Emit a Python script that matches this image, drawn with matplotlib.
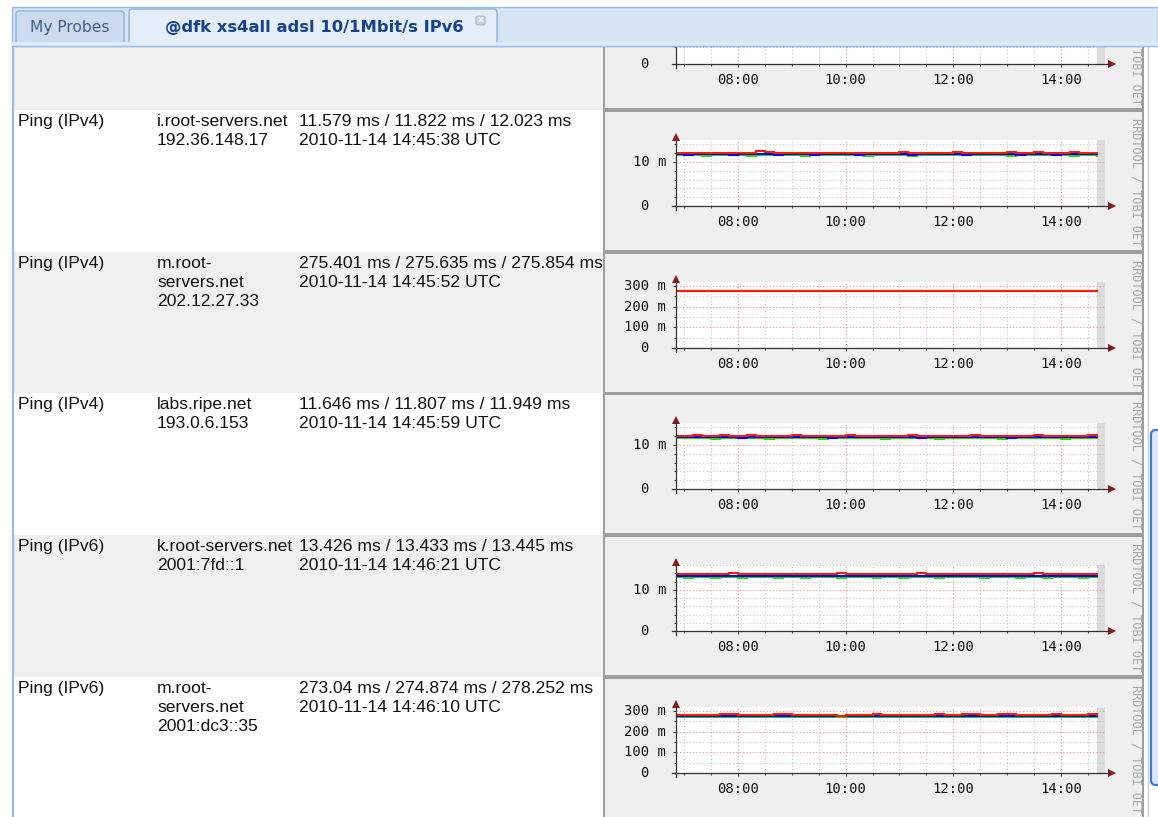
import numpy as np
import matplotlib
matplotlib.use("Agg")
import matplotlib.pyplot as plt
from matplotlib.patches import Rectangle, FancyBboxPatch, Polygon

W, H = 1158, 817

# ------------------------------------------------------------------ data
tab_labels = ["My Probes", "@dfk xs4all adsl 10/1Mbit/s IPv6"]

services = ["Ping (IPv4)", "Ping (IPv4)", "Ping (IPv4)", "Ping (IPv6)", "Ping (IPv6)"]
host_lines = [
    ["i.root-servers.net", "192.36.148.17"],
    ["m.root-", "servers.net", "202.12.27.33"],
    ["labs.ripe.net", "193.0.6.153"],
    ["k.root-servers.net", "2001:7fd::1"],
    ["m.root-", "servers.net", "2001:dc3::35"],
]
rtt_text = [
    "11.579 ms / 11.822 ms / 12.023 ms",
    "275.401 ms / 275.635 ms / 275.854 ms",
    "11.646 ms / 11.807 ms / 11.949 ms",
    "13.426 ms / 13.433 ms / 13.445 ms",
    "273.04 ms / 274.874 ms / 278.252 ms",
]
stamp_text = [
    "2010-11-14 14:45:38 UTC",
    "2010-11-14 14:45:52 UTC",
    "2010-11-14 14:45:59 UTC",
    "2010-11-14 14:46:21 UTC",
    "2010-11-14 14:46:10 UTC",
]
watermark = "RRDTOOL / TOBI OET"
watermark_tail = "TOBI OET"   # visible part of the top, partly hidden panel

x_tick_hours = [8, 10, 12, 14]
x_tick_labels = ["08:00", "10:00", "12:00", "14:00"]
x_minor_hours = [7, 7.5, 8.5, 9, 9.5, 10.5, 11, 11.5, 12.5, 13, 13.5, 14.5]
sample_start_h = 6 + 50 / 60      # first sample 06:50
sample_step_h = 10 / 60           # 10 minute samples
last_data_h = 14 + 40 / 60        # end of data (grey "unknown" band after it)

# i.root-servers.net (ms): min / avg / max
iroot_min = [11.6, 11.55, 11.6, 11.35, 11.6, 11.6, 11.55, 11.6, 11.4, 11.6, 11.6, 11.55,
             11.6, 11.6, 11.35, 11.6, 11.6, 11.55, 11.6, 11.6, 11.6, 11.4, 11.6, 11.6,
             11.55, 11.6, 11.35, 11.6, 11.6, 11.55, 11.6, 11.6, 11.6, 11.6, 11.55, 11.6,
             11.6, 11.35, 11.6, 11.6, 11.55, 11.6, 11.6, 11.6, 11.3, 11.6, 11.55, 11.35]
iroot_avg = [11.85, 11.7, 11.85, 11.8, 11.85, 11.8, 11.65, 11.85, 11.8, 11.9, 11.8, 11.7,
             11.85, 11.8, 11.8, 11.65, 11.85, 11.8, 11.8, 11.85, 11.7, 11.8, 11.85, 11.8,
             11.8, 11.85, 11.65, 11.8, 11.85, 11.8, 11.85, 11.8, 11.7, 11.85, 11.8, 11.8,
             11.85, 11.9, 11.7, 11.8, 11.85, 11.8, 11.65, 11.8, 11.85, 11.8, 11.8, 11.85]
iroot_max = [12.1, 12.15, 12.05, 12.1, 12.15, 12.1, 12.05, 12.15, 12.1, 12.55, 12.25, 12.1,
             12.15, 12.05, 12.1, 12.15, 12.05, 12.1, 12.15, 12.1, 12.05, 12.15, 12.1, 12.1,
             12.15, 12.35, 12.1, 12.05, 12.15, 12.1, 12.15, 12.25, 12.1, 12.05, 12.1, 12.15,
             12.1, 12.35, 12.15, 12.1, 12.3, 12.05, 12.1, 12.15, 12.25, 12.05, 12.1, 12.15]

# m.root-servers.net IPv4 (ms)
mroot4_min = [275.4, 275.45, 275.4, 275.4, 275.45, 275.4, 275.4, 275.4, 275.45, 275.4, 275.4, 275.4,
              275.4, 275.45, 275.4, 275.4, 275.4, 275.45, 275.4, 275.4, 275.4, 275.4, 275.45, 275.4,
              275.4, 275.4, 275.45, 275.4, 275.4, 275.4, 275.4, 275.45, 275.4, 275.4, 275.4, 275.45,
              275.4, 275.4, 275.4, 275.45, 275.4, 275.4, 275.4, 275.4, 275.45, 275.4, 275.4, 275.4]
mroot4_avg = [275.6, 275.65, 275.6, 275.65, 275.6, 275.6, 275.65, 275.6, 275.6, 275.65, 275.6, 275.6,
              275.65, 275.6, 275.6, 275.65, 275.6, 275.6, 275.65, 275.6, 275.6, 275.65, 275.6, 275.6,
              275.65, 275.6, 275.6, 275.65, 275.6, 275.6, 275.65, 275.6, 275.6, 275.65, 275.6, 275.6,
              275.65, 275.6, 275.6, 275.65, 275.6, 275.6, 275.65, 275.6, 275.6, 275.65, 275.6, 275.6]
mroot4_max = [275.85, 275.9, 275.85, 275.85, 275.9, 275.85, 275.85, 275.85, 275.9, 275.85, 275.85, 275.85,
              275.9, 275.85, 275.85, 275.85, 275.9, 275.85, 275.85, 275.85, 275.9, 275.85, 275.85, 275.85,
              275.9, 275.85, 275.85, 275.85, 275.9, 275.85, 275.85, 275.85, 275.9, 275.85, 275.85, 275.85,
              275.9, 275.85, 275.85, 275.85, 275.9, 275.85, 275.85, 275.85, 275.9, 275.85, 275.85, 275.85]

# labs.ripe.net (ms)
ripe_min = [11.6, 11.55, 11.6, 11.6, 11.35, 11.6, 11.55, 11.6, 11.6, 11.55, 11.4, 11.6,
            11.6, 11.55, 11.6, 11.6, 11.35, 11.6, 11.6, 11.55, 11.6, 11.6, 11.55, 11.4,
            11.6, 11.6, 11.55, 11.6, 11.6, 11.35, 11.6, 11.55, 11.6, 11.6, 11.55, 11.6,
            11.4, 11.6, 11.55, 11.6, 11.6, 11.6, 11.55, 11.35, 11.6, 11.6, 11.55, 11.6]
ripe_avg = [11.8, 11.85, 11.75, 11.8, 11.8, 11.85, 11.8, 11.7, 11.8, 11.85, 11.8, 11.8,
            11.75, 11.8, 11.85, 11.8, 11.8, 11.7, 11.8, 11.85, 11.8, 11.8, 11.75, 11.8,
            11.8, 11.85, 11.8, 11.7, 11.8, 11.8, 11.85, 11.8, 11.75, 11.8, 11.8, 11.85,
            11.8, 11.7, 11.8, 11.8, 11.85, 11.8, 11.75, 11.8, 11.8, 11.85, 11.8, 11.8]
ripe_max = [12.0, 12.05, 12.25, 12.0, 12.05, 12.3, 12.0, 12.05, 12.35, 12.0, 12.05, 12.15,
            12.0, 12.25, 12.05, 12.0, 12.15, 12.05, 12.0, 12.3, 12.05, 12.0, 12.05, 12.15,
            12.0, 12.05, 12.25, 12.0, 12.05, 12.0, 12.15, 12.05, 12.0, 12.25, 12.05, 12.0,
            12.05, 12.15, 12.0, 12.05, 12.25, 12.0, 12.05, 12.15, 12.0, 12.05, 12.25, 12.05]

# k.root-servers.net (ms)
kroot_min = [13.15, 12.95, 13.15, 13.15, 12.9, 13.15, 13.15, 12.95, 13.15, 13.15, 13.15, 12.95,
             13.15, 13.15, 12.9, 13.15, 13.15, 13.15, 12.95, 13.15, 13.15, 13.15, 12.95, 13.15,
             13.15, 12.9, 13.15, 13.15, 13.15, 12.95, 13.15, 13.15, 13.15, 13.15, 12.95, 13.15,
             13.15, 13.15, 12.9, 13.15, 13.15, 12.95, 13.15, 13.15, 13.15, 12.95, 13.15, 13.15]
kroot_avg = [13.43, 13.4, 13.43, 13.45, 13.4, 13.43, 13.45, 13.43, 13.4, 13.43, 13.45, 13.43,
             13.43, 13.4, 13.43, 13.45, 13.43, 13.4, 13.43, 13.43, 13.45, 13.43, 13.4, 13.43,
             13.43, 13.45, 13.43, 13.4, 13.43, 13.43, 13.45, 13.43, 13.4, 13.43, 13.43, 13.45,
             13.43, 13.4, 13.43, 13.43, 13.45, 13.43, 13.4, 13.43, 13.43, 13.45, 13.43, 13.43]
kroot_max = [13.7, 13.75, 13.7, 13.7, 13.75, 13.7, 14.05, 13.8, 13.7, 13.75, 13.7, 13.7,
             13.8, 13.7, 13.7, 13.75, 13.7, 13.7, 14.0, 13.75, 13.7, 13.7, 13.8, 13.7,
             13.7, 13.75, 13.7, 14.0, 13.7, 13.7, 13.75, 13.7, 13.7, 13.8, 13.7, 13.7,
             13.75, 13.7, 13.7, 13.7, 14.0, 13.7, 13.75, 13.7, 13.7, 13.8, 13.7, 13.7]

# m.root-servers.net IPv6 (ms)
mroot6_min = [272.5, 272.5, 272.5, 270.0, 272.5, 272.5, 272.5, 272.5, 270.0, 272.5, 272.5, 272.5,
              272.5, 272.5, 272.5, 272.5, 272.5, 272.5, 272.5, 272.5, 272.5, 270.0, 272.5, 272.5,
              272.5, 272.5, 272.5, 272.5, 270.0, 272.5, 272.5, 272.5, 272.5, 272.5, 272.5, 270.0,
              272.5, 272.5, 272.5, 272.5, 272.5, 272.5, 270.0, 272.5, 272.5, 272.5, 272.5, 272.5]
mroot6_avg = [274.9, 274.9, 274.8, 274.9, 274.9, 274.9, 274.9, 274.8, 274.9, 274.9, 274.9, 274.9,
              274.9, 274.9, 274.8, 274.9, 274.9, 274.9, 274.9, 274.9, 274.9, 274.8, 274.9, 274.9,
              274.9, 274.9, 274.9, 274.9, 274.9, 274.9, 274.8, 274.9, 274.9, 274.9, 274.9, 274.9,
              274.9, 274.8, 274.9, 274.9, 274.9, 274.9, 274.9, 274.9, 274.9, 274.8, 274.9, 274.9]
mroot6_max = [279.0, 279.0, 279.0, 279.0, 279.0, 286.0, 286.0, 279.0, 279.0, 279.0, 279.0, 286.0,
              286.0, 279.0, 279.0, 279.0, 279.0, 279.0, 274.0, 279.0, 279.0, 279.0, 286.0, 279.0,
              279.0, 279.0, 279.0, 279.0, 279.0, 286.0, 279.0, 279.0, 286.0, 286.0, 279.0, 279.0,
              286.0, 286.0, 279.0, 279.0, 279.0, 279.0, 286.0, 279.0, 279.0, 279.0, 286.0, 279.0]

series_colors = ["#22dd00", "#0000ff", "#ff1a00"]   # min, avg, max

# ------------------------------------------------------------------ layout
fig = plt.figure(figsize=(W / 100, H / 100), dpi=100)
fig.patch.set_facecolor("white")


def px_axes(z):
    a = fig.add_axes([0, 0, 1, 1], zorder=z)
    a.set_xlim(0, W)
    a.set_ylim(H, 0)
    a.axis("off")
    a.patch.set_alpha(0)
    return a


bg = px_axes(0)
mid = px_axes(3)
top = px_axes(5)

panel_tops = [-32, 110, 252, 393, 535, 677]
PX0, PX1, PH = 604, 1143, 140
AX_X0, AX_X1 = 676, 1105
PX_PER_H = 53.8
T0 = 8 - (738 - AX_X0) / PX_PER_H
T1 = 8 + (AX_X1 - 738) / PX_PER_H

TEXT_FONT = "Liberation Sans"
MONO = "DejaVu Sans Mono"
WM_CHAR = 0.602 * 8.6 * 100 / 72   # watermark char advance in px

# row backgrounds and panels
for i, pt in enumerate(panel_tops):
    nxt = panel_tops[i + 1] if i + 1 < len(panel_tops) else H
    if i % 2 == 0:
        bg.add_patch(Rectangle((14, pt), PX0 - 14, nxt - pt, fc="#f0f0f0", ec="none"))
    bg.add_patch(Rectangle((PX0, pt + 1), PX1 - PX0, PH, fc="#efefef", ec="#9c9c9c", lw=1.4))

# left blue border of the tab body
bg.plot([13, 13], [44, H], color="#99bbe8", lw=1.6)

# left table text
for i in range(5):
    base = panel_tops[i + 1] + 16
    kw = dict(fontsize=12.6, family=TEXT_FONT, va="baseline", ha="left", color="#111111")
    bg.text(18, base, services[i], **kw)
    for j, line in enumerate(host_lines[i]):
        bg.text(157, base + 19 * j, line, **kw)
    bg.text(299, base, rtt_text[i], **kw)
    bg.text(299, base + 19, stamp_text[i], **kw)

MONO_PT = 10
CW = 0.602 * MONO_PT * 100 / 72  # mono char advance in px


def chart(pt, ylim, ymaj, ymaj_lbl, ymin, series, wm_text=watermark):
    ay = pt + 96
    ax = fig.add_axes([AX_X0 / W, 1 - ay / H, (AX_X1 - AX_X0) / W, 66 / H], zorder=2)
    ax.set_xlim(T0, T1)
    ax.set_ylim(*ylim)
    ax.set_facecolor("white")
    for s in ax.spines.values():
        s.set_visible(False)
    ax.set_xticks(x_tick_hours, x_tick_labels)
    ax.set_xticks(x_minor_hours, minor=True)
    ax.set_yticks(ymaj, [""] * len(ymaj))
    ax.set_yticks(ymin, minor=True)
    ax.axvspan(last_data_h, T1, color="#dcdcdc", lw=0, zorder=1)
    ax.grid(True, which="minor", color="#c4c4c4", ls=(0, (1, 2)), lw=0.8)
    ax.grid(True, which="major", color="#ee8a8a", ls=(0, (1, 2)), lw=0.8)
    ax.tick_params(which="both", direction="out", color="#444444", width=0.8,
                   labelsize=MONO_PT, labelfontfamily=MONO, labelcolor="#111111")
    ax.tick_params(which="major", length=2.5, pad=4)
    ax.tick_params(which="minor", length=1.5)
    for v, lbl in zip(ymaj, ymaj_lbl):
        ax.annotate(lbl, xy=(0, v), xycoords=("axes fraction", "data"),
                    xytext=(-10 - CW * len(lbl), 0), textcoords="offset pixels",
                    ha="left", va="center", family=MONO, fontsize=MONO_PT, color="#111111",
                    annotation_clip=False)
    for vals, col in series:
        t = sample_start_h + np.arange(len(vals)) * sample_step_h
        ax.plot(t, vals, drawstyle="steps-post", color=col, lw=1.5, solid_joinstyle="miter")

    # axis lines with arrows
    mid.plot([AX_X0 - 4, 1109], [ay, ay], color="#333333", lw=0.9)
    mid.add_patch(Polygon([[1108, ay - 4], [1116, ay], [1108, ay + 4]], closed=True,
                          fc="#8b1a1a", ec="none"))
    mid.plot([AX_X0, AX_X0], [ay + 4, pt + 30], color="#333333", lw=0.9)
    mid.add_patch(Polygon([[AX_X0 - 4, pt + 31], [AX_X0, pt + 23], [AX_X0 + 4, pt + 31]],
                          closed=True, fc="#8b1a1a", ec="none"))
    # vertical watermark, clipped to panel
    start = pt + 8 + (len(watermark) - len(watermark.split(wm_text)[0]) - len(wm_text)) * 0
    start = pt + 8 + watermark.index(wm_text) * WM_CHAR
    txt = mid.text(1136, start, wm_text, rotation=270, ha="center", va="top",
                   family=MONO, fontsize=8.6, color="#a9a9a9", clip_on=True)
    txt.set_clip_path(Rectangle((PX0, pt + 1), PX1 - PX0, PH, transform=mid.transData))
    return ax


ms_ticks = [0, 10]
ms_labels = ["0  ", "10 m"]
big_ticks = [0, 100, 200, 300]
big_labels = ["0  ", "100 m", "200 m", "300 m"]

chart(panel_tops[0], (0, 3.9), [0], ["0  "], [1, 2, 3], [], wm_text=watermark_tail)
chart(panel_tops[1], (0, 15), ms_ticks, ms_labels, [2, 4, 6, 8, 12, 14],
      list(zip([iroot_min, iroot_avg, iroot_max], series_colors)))
chart(panel_tops[2], (0, 320), big_ticks, big_labels, [50, 150, 250],
      list(zip([mroot4_min, mroot4_avg, mroot4_max], series_colors)))
chart(panel_tops[3], (0, 15), ms_ticks, ms_labels, [2, 4, 6, 8, 12, 14],
      list(zip([ripe_min, ripe_avg, ripe_max], series_colors)))
chart(panel_tops[4], (0, 16), ms_ticks, ms_labels, [2, 4, 6, 8, 12, 14, 16],
      list(zip([kroot_min, kroot_avg, kroot_max], series_colors)))
chart(panel_tops[5], (0, 320), big_ticks, big_labels, [50, 150, 250],
      list(zip([mroot6_min, mroot6_avg, mroot6_max], series_colors)))

# ------------------------------------------------------------------ tab bar (on top)
top.add_patch(Rectangle((0, 0), W, 46, fc="white", ec="none"))
top.add_patch(Rectangle((12, 7), W - 12, 39, fc="#d7e4f4", ec="#99bbe8", lw=1))
top.add_patch(FancyBboxPatch((16, 11), 108, 34, boxstyle="round,pad=0,rounding_size=3",
                             fc="#ccdbef", ec="#8db2e3", lw=1))
top.add_patch(FancyBboxPatch((129, 9), 368, 37, boxstyle="round,pad=0,rounding_size=3",
                             fc="#e4edf9", ec="#8db2e3", lw=1))
top.add_patch(Rectangle((12, 42), W - 12, 4, fc="#deecfd", ec="none"))
top.plot([12, W], [46, 46], color="#99bbe8", lw=1)
top.text(70, 27, tab_labels[0], family="DejaVu Sans", fontsize=11.2, color="#3f5f8f",
         ha="center", va="center")
top.text(314, 27, tab_labels[1], family="DejaVu Sans", fontweight="bold", fontsize=11.8,
         color="#15428b", ha="center", va="center")
top.add_patch(FancyBboxPatch((476, 16), 9, 9, boxstyle="round,pad=0,rounding_size=2",
                             fc="#c5d3e6", ec="#a8b8cf", lw=0.8))
top.text(480.5, 20.5, "×", family="DejaVu Sans", fontsize=7, color="white",
         ha="center", va="center", fontweight="bold")

# right edge / scrollbar
top.add_patch(Rectangle((PX1 + 2, 46), W - PX1 - 2, H - 46, fc="white", ec="none"))
top.plot([1148, 1148], [46, H], color="#c8c8c8", lw=0.8)
top.add_patch(FancyBboxPatch((1151, 430), 16, 355, boxstyle="round,pad=0,rounding_size=5",
                             fc="#dbe7f6", ec="#3d7ad0", lw=1.6))

fig.savefig("out.png", dpi=100)
